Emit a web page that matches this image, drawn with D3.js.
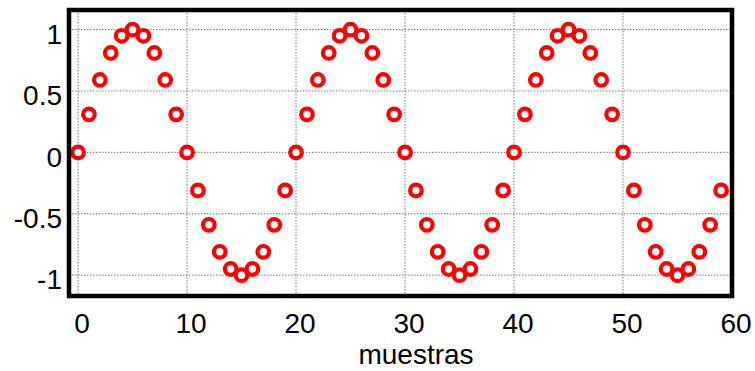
<!DOCTYPE html>
<html>
<head>
<meta charset="utf-8">
<script src="https://cdn.jsdelivr.net/npm/d3@7"></script>
<style>
  body { margin: 0; background: #fff; }
  text { font-family: "Liberation Sans", Arial, sans-serif; }
</style>
</head>
<body>
<div id="chart"></div>
<script>
const samples = d3.range(0, 60);
const values = [
  0, 0.31, 0.59, 0.81, 0.95, 1, 0.95, 0.81, 0.59, 0.31,
  0, -0.31, -0.59, -0.81, -0.95, -1, -0.95, -0.81, -0.59, -0.31,
  0, 0.31, 0.59, 0.81, 0.95, 1, 0.95, 0.81, 0.59, 0.31,
  0, -0.31, -0.59, -0.81, -0.95, -1, -0.95, -0.81, -0.59, -0.31,
  0, 0.31, 0.59, 0.81, 0.95, 1, 0.95, 0.81, 0.59, 0.31,
  0, -0.31, -0.59, -0.81, -0.95, -1, -0.95, -0.81, -0.59, -0.31
];
const xTicks = [0, 10, 20, 30, 40, 50, 60];
const yTicks = [-1, -0.5, 0, 0.5, 1];
const xLabel = "muestras";

const W = 755, H = 371;
const plot = { left: 69, right: 732, top: 10, bottom: 296 };

const svg = d3.select("#chart")
  .append("svg")
  .attr("width", W)
  .attr("height", H);

const x = d3.scaleLinear().domain([-0.83, 60]).range([plot.left, plot.right]);
const y = d3.scaleLinear().domain([-1.17, 1.16]).range([plot.bottom, plot.top]);

// grid
svg.append("g")
  .selectAll("line")
  .data(xTicks.filter(d => d < 60))
  .join("line")
  .attr("x1", d => x(d)).attr("x2", d => x(d))
  .attr("y1", plot.top).attr("y2", plot.bottom)
  .attr("stroke", "#555")
  .attr("stroke-width", 0.8)
  .attr("stroke-dasharray", "1.5,1.5");

svg.append("g")
  .selectAll("line")
  .data(yTicks)
  .join("line")
  .attr("x1", plot.left).attr("x2", plot.right)
  .attr("y1", d => y(d)).attr("y2", d => y(d))
  .attr("stroke", "#555")
  .attr("stroke-width", 0.8)
  .attr("stroke-dasharray", "1.5,1.5");

// tick labels
svg.append("g")
  .selectAll("text")
  .data(yTicks)
  .join("text")
  .attr("x", 62)
  .attr("y", d => y(d) + 4.5)
  .attr("dy", "0.35em")
  .attr("text-anchor", "end")
  .attr("font-size", 28)
  .text(d => d);

svg.append("g")
  .selectAll("text")
  .data(xTicks)
  .join("text")
  .attr("x", d => x(d) + 4)
  .attr("y", 333)
  .attr("text-anchor", "middle")
  .attr("font-size", 28)
  .text(d => d);

svg.append("text")
  .attr("x", 416)
  .attr("y", 364)
  .attr("text-anchor", "middle")
  .attr("font-size", 28)
  .text(xLabel);

// points
svg.append("g")
  .selectAll("circle")
  .data(samples)
  .join("circle")
  .attr("cx", d => x(d))
  .attr("cy", (d, i) => y(values[i]))
  .attr("r", 5.8)
  .attr("fill", "#fff")
  .attr("stroke", "#ff0000")
  .attr("stroke-width", 4.2);

// frame
svg.append("rect")
  .attr("x", plot.left).attr("y", plot.top)
  .attr("width", plot.right - plot.left).attr("height", plot.bottom - plot.top)
  .attr("fill", "none")
  .attr("stroke", "#000")
  .attr("stroke-width", 4.5);
</script>
</body>
</html>
